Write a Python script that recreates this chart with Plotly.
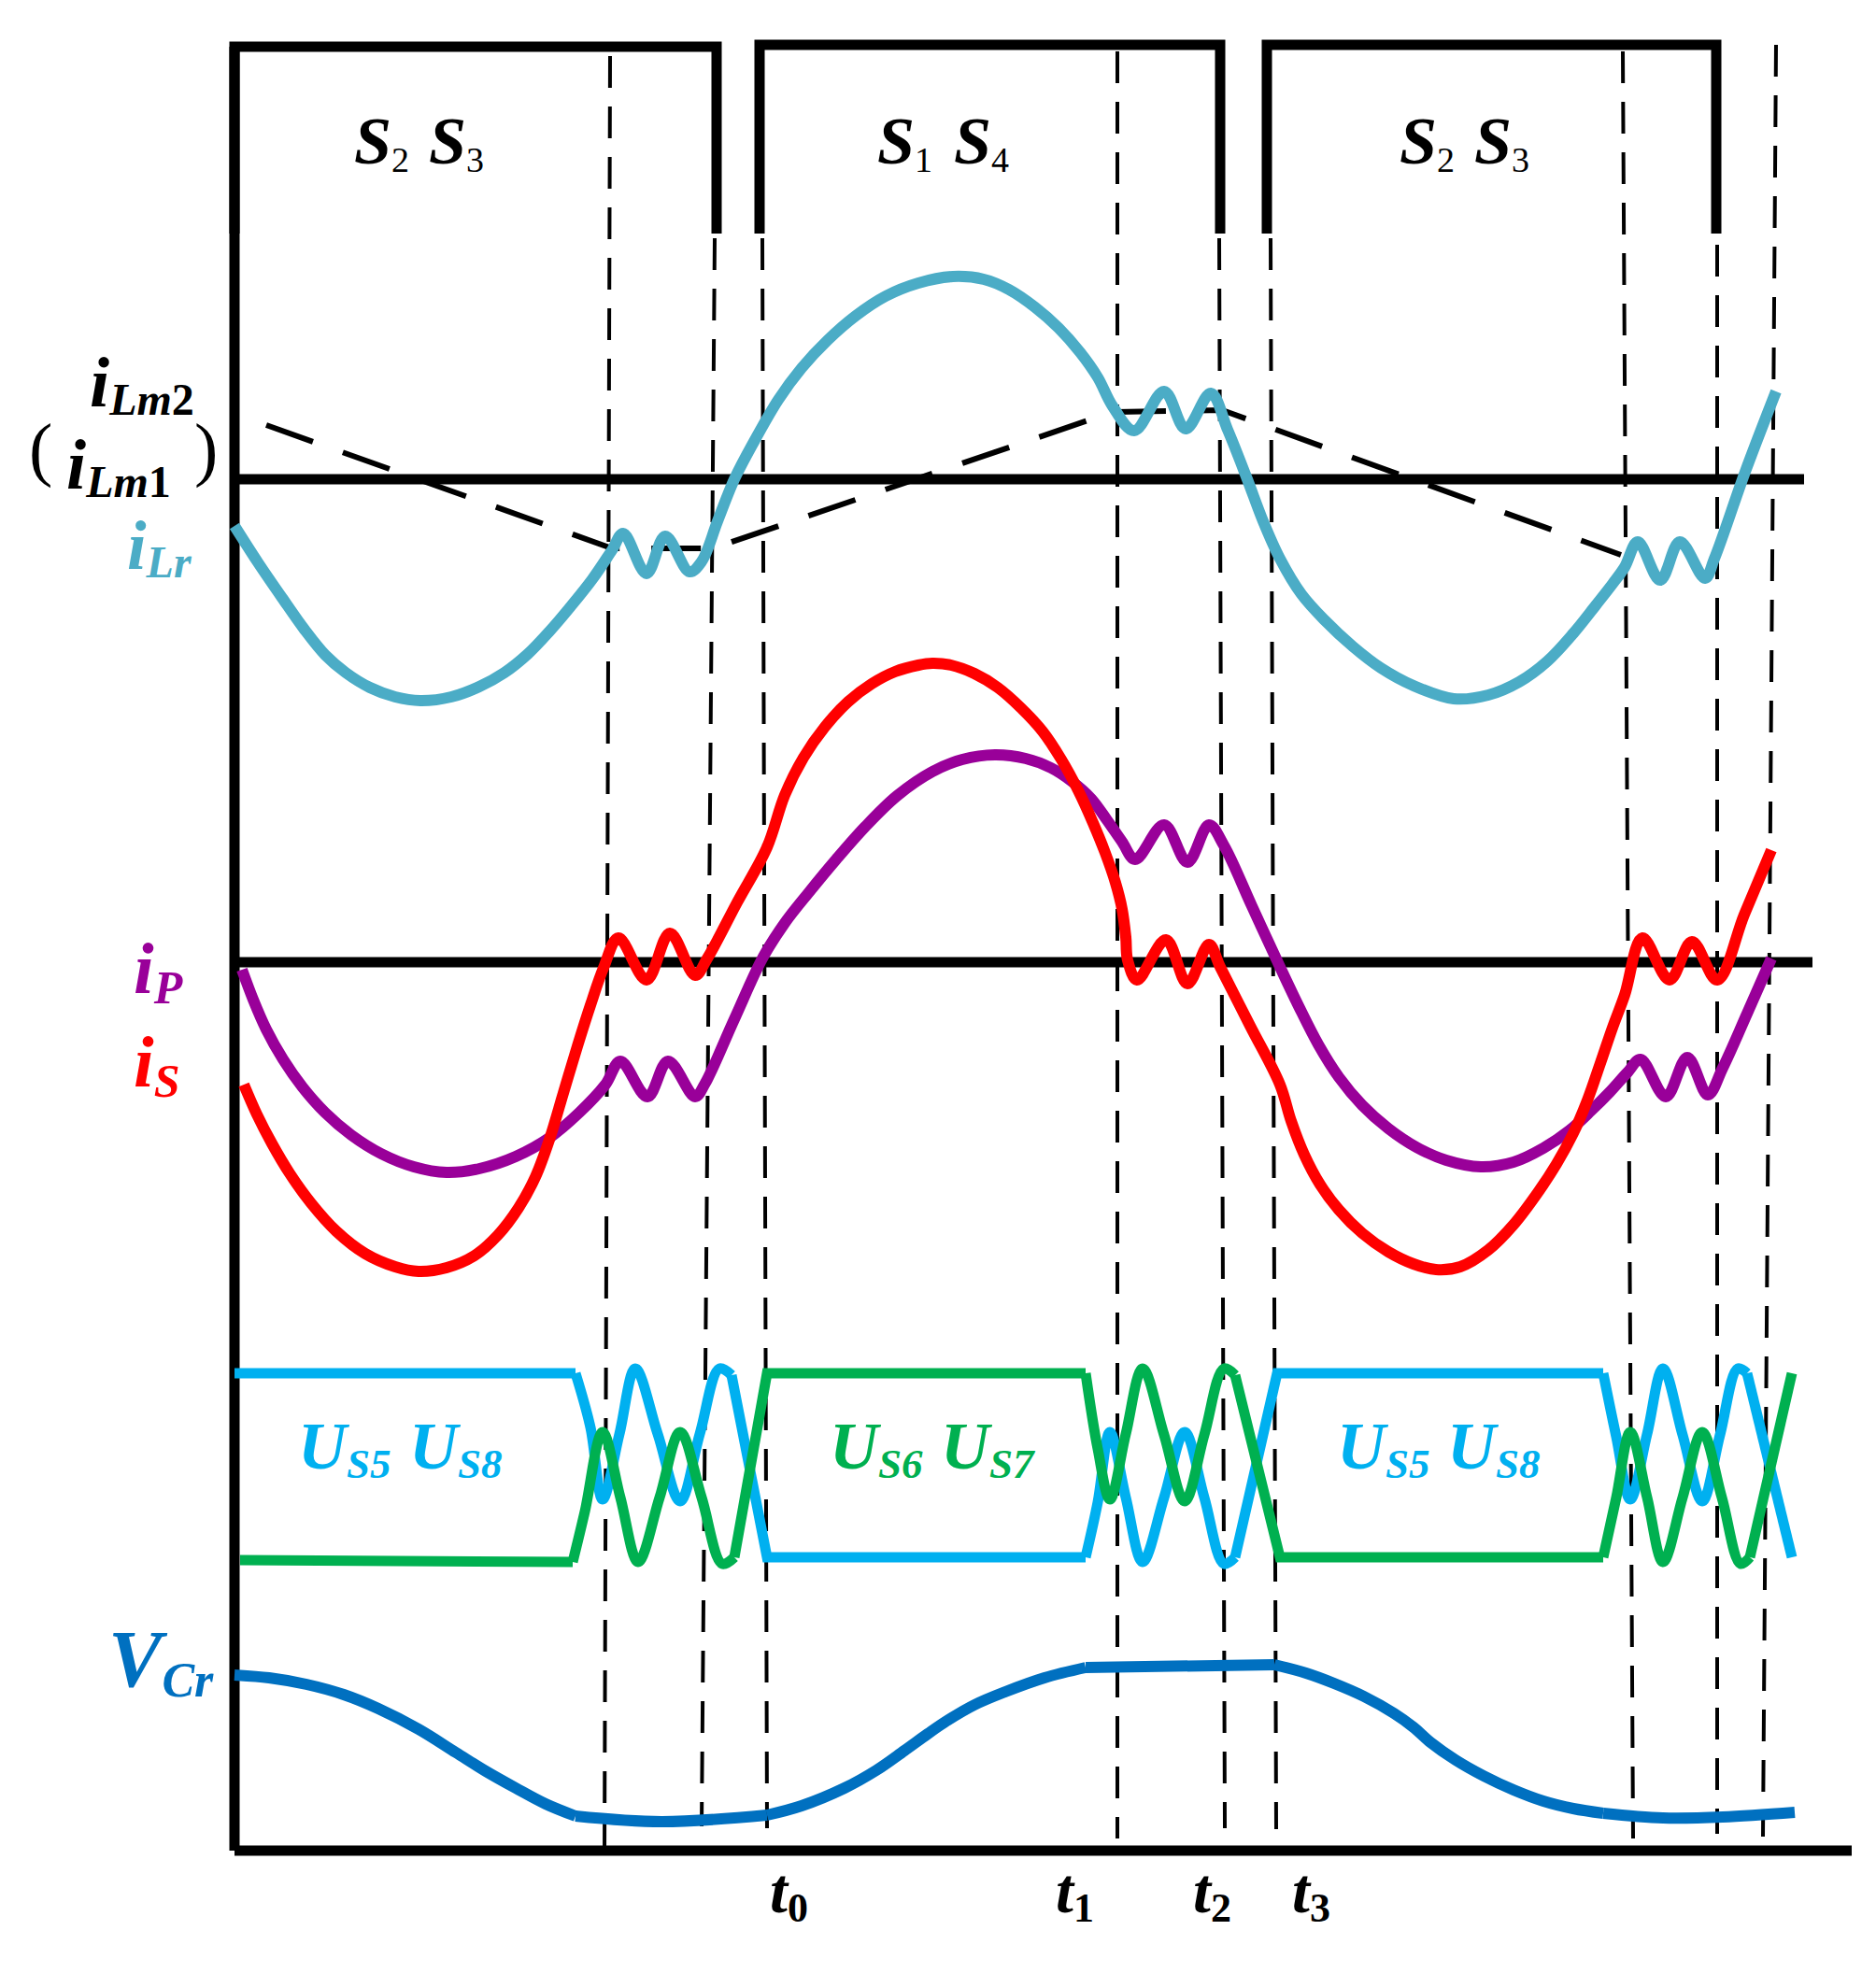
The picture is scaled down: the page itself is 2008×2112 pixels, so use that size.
import plotly.graph_objects as go

W, H = 2008, 2112
X0 = 243          # time origin = left axis
FONT = "Liberation Serif, Times New Roman, serif"

# ---------------- data ----------------
# t = time (px from the left axis), v = amplitude above each trace's own zero line
gate_t = [0, 0, 516, 516, None, 562, 562, 1055, 1055, None, 1105, 1105, 1586, 1586]
gate_v = [0, 200, 200, 0, None, 0, 202, 202, 0, None, 0, 202, 202, 0]

ilr_t = [0, 25, 51, 75, 97, 119, 145, 172, 199, 232, 262, 289, 314, 337, 360, 383, 404,
         416, 441, 461, 487, 500, 517, 535, 557, 582, 607, 635, 665, 697, 732, 769, 802,
         829, 857, 882, 905, 924, 940, 963, 995, 1018, 1045, 1063, 1084, 1101, 1119, 1142,
         1167, 1197, 1227, 1262, 1305, 1342, 1375, 1405, 1433, 1457, 1475, 1488, 1502,
         1526, 1547, 1574, 1584, 1617, 1650]
ilr_v = [-50, -89, -127, -161, -188, -207, -223, -233, -237, -233, -222, -207, -187, -163,
         -136, -107, -76, -58, -101, -61, -99, -88, -45, 0, 42, 85, 119, 149, 175, 196, 210,
         217, 214, 203, 184, 162, 136, 109, 78, 52, 94, 54, 92, 53, 0, -45, -85, -123, -151,
         -179, -202, -221, -235, -231, -217, -195, -165, -135, -112, -94, -67, -108, -67,
         -106, -85, 8, 94]

ilm_t = [34, 404, 512, 940, 1057, 1484]
ilm_v = [58, -74, -74, 72, 74, -81]

is_t = [10, 24, 40, 59, 82, 109, 140, 172, 197, 227, 257, 282, 304, 322, 337, 352, 367,
        381, 395, 411, 441, 466, 493, 506, 538, 570, 589, 609, 632, 657, 682, 707, 732, 747,
        767, 792, 817, 842, 865, 885, 903, 919, 932, 943, 950, 954, 956, 966, 997, 1020,
        1043, 1055, 1087, 1119, 1131, 1145, 1162, 1182, 1207, 1235, 1262, 1286, 1312, 1342,
        1369, 1394, 1415, 1433, 1448, 1462, 1475, 1488, 1507, 1536, 1560, 1587, 1616, 1645]
is_v = [-131, -163, -194, -226, -258, -288, -312, -326, -331, -327, -314, -292, -263, -230,
        -190, -140, -90, -46, -6, 26, -19, 31, -14, 4, 64, 123, 179, 219, 252, 279, 298, 311,
        318, 320, 318, 309, 294, 272, 247, 217, 184, 149, 117, 85, 57, 27, 2, -19, 24, -23,
        19, -5, -68, -131, -170, -206, -238, -265, -290, -310, -323, -329, -326, -308, -281,
        -248, -216, -183, -148, -108, -70, -35, 26, -19, 22, -19, 51, 120]

ip_t = [8, 20, 34, 52, 73, 97, 125, 157, 192, 227, 262, 301, 337, 369, 397, 413, 442, 464,
        493, 503, 535, 565, 589, 615, 644, 675, 709, 747, 779, 814, 847, 874, 897, 917, 934,
        950, 964, 995, 1020, 1043, 1059, 1089, 1119, 1139, 1160, 1182, 1207, 1235, 1265,
        1297, 1334, 1369, 1401, 1429, 1452, 1472, 1491, 1505, 1532, 1555, 1577, 1593, 1619,
        1645]
ip_v = [-8, -40, -72, -104, -134, -161, -185, -205, -219, -225, -221, -208, -188, -161,
        -131, -106, -144, -106, -144, -131, -61, 4, 42, 75, 110, 145, 178, 204, 217, 222, 218,
        208, 193, 175, 152, 129, 110, 147, 107, 147, 125, 60, -5, -47, -88, -123, -153, -178,
        -198, -212, -219, -214, -199, -180, -159, -139, -118, -104, -144, -102, -142, -113,
        -55, 4]

# switch voltages: flat (straight) parts and ringing (curved) parts, None = break
us58_flat_t = [0, 365, None, 532, 570, 911, None, 1071, 1116, 1465, None, 1619, 1667]
us58_flat_v = [199, 199, None, 197, 2, 2, None, 2, 199, 199, None, 199, 2]
us58_ring_t = [365, 381, 394, 412, 429, 453, 477, 498, 519, 532, None,
               911, 924, 937, 954, 972, 995, 1017, 1038, 1059, 1071, None,
               1465, 1479, 1494, 1512, 1529, 1550, 1571, 1590, 1609, 1619]
us58_ring_v = [199, 141, 64, 134, 204, 134, 62, 134, 204, 197, None,
               2, 61, 136, 66, -3, 66, 136, 66, -5, 2, None,
               199, 131, 64, 134, 204, 133, 62, 133, 204, 199]

us67_flat_t = [6, 362, None, 535, 570, 911, None, 1071, 1119, 1465, None, 1622, 1667]
us67_flat_v = [-1, -3, None, 2, 199, 199, None, 197, 2, 2, None, 2, 199]
us67_ring_t = [362, 375, 394, 413, 432, 455, 477, 500, 522, 535, None,
               911, 924, 937, 954, 972, 995, 1017, 1038, 1059, 1071, None,
               1465, 1479, 1494, 1512, 1529, 1550, 1571, 1592, 1612, 1622]
us67_ring_v = [-3, 51, 136, 66, -3, 66, 136, 66, -5, 2, None,
               199, 118, 64, 134, 204, 133, 62, 133, 204, 197, None,
               2, 66, 136, 66, -3, 66, 136, 66, -5, 2]

vcr_curve_t = [0, 37, 77, 117, 154, 197, 237, 269, 301, 333, 365, None,
               365, 457, 570, None,
               570, 607, 653, 687, 717, 742, 761, 792, 825, 867, 911, None,
               1113, 1147, 1177, 1209, 1241, 1262, 1280, 1307, 1337, 1369, 1401, 1433, 1465, None,
               1465, 1529, 1593, 1670]
vcr_curve_v = [188, 185, 178, 167, 152, 130, 105, 85, 67, 50, 37, None,
               37, 31, 38, None,
               38, 48, 67, 86, 107, 125, 138, 156, 170, 185, 196, None,
               199, 190, 179, 165, 147, 132, 116, 97, 80, 65, 53, 45, 40, None,
               40, 35, 36, 41]
vcr_flat_t = [911, 1113]
vcr_flat_v = [196, 199]

# time markers (dashed verticals): time at top / bottom
mark_t_top = [402, 514, 565, 945, 1054, 1109, 1486, 1587, 1650]
mark_t_bot = [396, 500, 570, 945, 1060, 1115, 1497, 1587, 1636]

# ---------------- layout constants ----------------
GATE_BASE, ILR_BASE, IPS_BASE, US_BASE, VCR_BASE = 242, 505, 1022, 1661, 1973
mark_y_top = [52, 247, 247, 47, 247, 247, 47, 254, 40]
mark_y_bot = [1980, 1947, 1949, 1960, 1949, 1950, 1960, 1955, 1958]

C_ILR, C_RED, C_PUR = "#4BACC6", "#FF0000", "#990099"
C_USB, C_USG, C_VCR = "#00B0F0", "#00B050", "#0070C0"
LW = 12
TEXT_DX, TEXT_DY = -7, -5


def xs(ts):
    return [None if t is None else X0 + t for t in ts]


def ys(vs, base):
    return [None if v is None else base - v for v in vs]


fig = go.Figure()


def line(x, y, color, width, dash=None, shape="linear"):
    fig.add_trace(go.Scatter(x=x, y=y, mode="lines", hoverinfo="skip", showlegend=False,
                             line=dict(color=color, width=width, dash=dash, shape=shape,
                                       smoothing=1.0)))


# dashed time markers
for tt, tb, yt, yb in zip(mark_t_top, mark_t_bot, mark_y_top, mark_y_bot):
    line([X0 + tt, X0 + tb], [yt, yb], "black", 4, dash="34px,20px")

# axes and zero lines
line([X0, X0], [42, VCR_BASE], "black", 11)
line([X0, 1974], [VCR_BASE, VCR_BASE], "black", 11)
line([X0, 1923], [ILR_BASE, ILR_BASE], "black", 11)
line([X0, 1932], [IPS_BASE, IPS_BASE], "black", 11)

# gate signals
line(xs(gate_t), ys(gate_v, GATE_BASE), "black", 11)

# magnetizing current (dashed)
line(xs(ilm_t), ys(ilm_v, ILR_BASE), "black", 6, dash="53px,34px")

# waveforms
line(xs(ilr_t), ys(ilr_v, ILR_BASE), C_ILR, LW, shape="spline")
line(xs(ip_t), ys(ip_v, IPS_BASE), C_PUR, LW, shape="spline")
line(xs(is_t), ys(is_v, IPS_BASE), C_RED, LW, shape="spline")
line(xs(us58_flat_t), ys(us58_flat_v, US_BASE), C_USB, 11)
line(xs(us58_ring_t), ys(us58_ring_v, US_BASE), C_USB, 11, shape="spline")
line(xs(us67_flat_t), ys(us67_flat_v, US_BASE), C_USG, 11)
line(xs(us67_ring_t), ys(us67_ring_v, US_BASE), C_USG, 11, shape="spline")
line(xs(vcr_flat_t), ys(vcr_flat_v, VCR_BASE), C_VCR, LW)
line(xs(vcr_curve_t), ys(vcr_curve_v, VCR_BASE), C_VCR, LW, shape="spline")


# ---------------- labels ----------------
def sym(main, sub, sub_size, drop, sub_bold=True, sub_italic=True):
    s = sub
    if sub_italic:
        s = "<i>%s</i>" % s
    if sub_bold:
        s = "<b>%s</b>" % s
    return ("<b><i>%s</i></b><span style='font-size:%dpx;baseline-shift:-%dpx'>%s</span>"
            % (main, sub_size, drop, s))


# (html text, left x, baseline y, main font size, colour)
labels = [
    (sym("S", "2", 38, 9, False, False), 378, 173, 72, "black"),
    (sym("S", "3", 38, 9, False, False), 458, 173, 72, "black"),
    (sym("S", "1", 38, 9, False, False), 938, 173, 72, "black"),
    (sym("S", "4", 38, 9, False, False), 1020, 173, 72, "black"),
    (sym("S", "2", 38, 9, False, False), 1497, 173, 72, "black"),
    (sym("S", "3", 38, 9, False, False), 1577, 173, 72, "black"),
    (sym("i", "<i>Lm</i>2", 48, 9, True, False), 95, 433, 76, "black"),
    (sym("i", "<i>Lm</i>1", 48, 9, True, False), 70, 521, 76, "black"),
    ("(", 30, 504, 76, "black"),
    (")", 207, 504, 76, "black"),
    (sym("i", "Lr", 48, 9), 135, 607, 74, C_ILR),
    (sym("i", "P", 50, 11), 142, 1060, 78, C_PUR),
    (sym("i", "S", 50, 11), 142, 1160, 78, C_RED),
    (sym("U", "S5", 45, 10), 318, 1570, 72, C_USB),
    (sym("U", "S8", 45, 10), 437, 1570, 72, C_USB),
    (sym("U", "S6", 45, 10), 887, 1570, 72, C_USG),
    (sym("U", "S7", 45, 10), 1006, 1570, 72, C_USG),
    (sym("U", "S5", 45, 10), 1430, 1570, 72, C_USB),
    (sym("U", "S8", 45, 10), 1548, 1570, 72, C_USB),
    (sym("V", "Cr", 52, 11), 115, 1803, 86, C_VCR),
    (sym("t", "0", 44, 10, True, False), 823, 2045, 68, "black"),
    (sym("t", "1", 44, 10, True, False), 1129, 2045, 68, "black"),
    (sym("t", "2", 44, 10, True, False), 1276, 2045, 68, "black"),
    (sym("t", "3", 44, 10, True, False), 1382, 2045, 68, "black"),
]

annotations = []
for text, xl, base, size, color in labels:
    annotations.append(dict(
        text=text, x=xl + TEXT_DX, y=base - 0.891 * size - 1 + TEXT_DY, xref="x", yref="y",
        xanchor="left", yanchor="top", showarrow=False, borderpad=0, borderwidth=0,
        font=dict(family=FONT, size=size, color=color)))

fig.update_layout(
    width=W, height=H, margin=dict(l=0, r=0, t=0, b=0),
    paper_bgcolor="white", plot_bgcolor="white",
    xaxis=dict(range=[0, W], visible=False, fixedrange=True),
    yaxis=dict(range=[H, 0], visible=False, fixedrange=True),
    annotations=annotations,
)

fig.write_html("out.html")
